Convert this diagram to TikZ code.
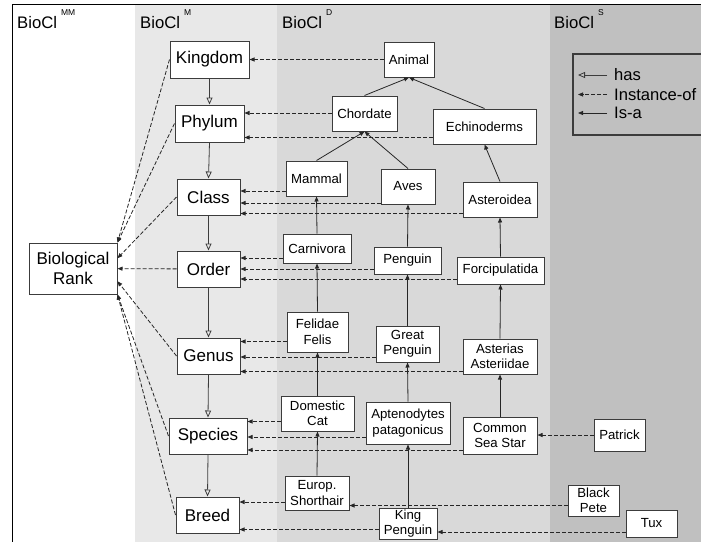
\documentclass[tikz,border=0pt]{standalone}
\usepackage{fontspec}
\setmainfont{Liberation Sans}
\definecolor{bandm}{RGB}{232,232,232}
\definecolor{bandd}{RGB}{217,217,217}
\definecolor{bands}{RGB}{192,192,192}
\definecolor{edgegray}{RGB}{60,60,60}
\usetikzlibrary{arrows.meta, calc}

\tikzset{
  rankbox/.style={draw=edgegray, fill=white, line width=1pt, inner sep=0pt,
                  align=center, font=\fontsize{17}{20}\selectfont},
  taxbox/.style={draw=edgegray, fill=white, line width=1pt, inner sep=0pt,
                 align=center, font=\fontsize{13.2}{15.5}\selectfont},
  sz/.style 2 args={minimum width=#1pt, minimum height=#2pt},
  hasedge/.style={draw=edgegray, line width=0.8pt,
                  -{Triangle[open, length=7pt, width=6pt]}},
  isaedge/.style={draw=black!85, line width=0.8pt,
                  -{Triangle[length=5pt, width=4pt]}},
  instedge/.style={draw=black!85, line width=0.8pt, dash pattern=on 4pt off 2pt,
                   -{Triangle[length=5pt, width=4pt]}},
  levellabel/.style={anchor=base west, inner sep=0pt,
                     font=\fontsize{16.7}{20}\selectfont},
  legendtext/.style={anchor=west, inner sep=0pt,
                     font=\fontsize{16.6}{19}\selectfont}
}
\newcommand{\lvl}[1]{BioCl\hspace{4pt}\raisebox{12.5pt}{\fontsize{8.5}{9}\selectfont #1}}

\begin{document}
\begin{tikzpicture}[x=1pt, y=-1pt]
  \useasboundingbox (0,0) rectangle (701,541);
  \clip (0,0) rectangle (701,541);

  % level bands
  \fill[bandm] (135,4) rectangle (277,560);
  \fill[bandd] (277,4) rectangle (550,560);
  \fill[bands] (550,4) rectangle (720,560);
  \draw[line width=1pt] (12,560) -- (12,4) -- (720,4);

  \node[levellabel] (lblmm) at (17,28) {\lvl{MM}};
  \node[levellabel] (lblm) at (140,28) {\lvl{M}};
  \node[levellabel] (lbld) at (282,28) {\lvl{D}};
  \node[levellabel] (lbls) at (554,28) {\lvl{S}};

  % meta-metamodel and metamodel
  \node[rankbox, sz={88}{51}] (rank) at (73,268.5) {Biological\\Rank};
  \node[rankbox, sz={79}{37}] (kingdom) at (209.5,59.5) {Kingdom};
  \node[rankbox, sz={69}{37}] (phylum) at (209.5,123.5) {Phylum};
  \node[rankbox, sz={63}{36}] (class) at (208.5,197) {Class};
  \node[rankbox, sz={63}{36}] (order) at (208.5,269) {Order};
  \node[rankbox, sz={63}{36}] (genus) at (208.5,356) {Genus};
  \node[rankbox, sz={78}{36}] (species) at (208,436) {Species};
  \node[rankbox, sz={63}{36}] (breed) at (207.5,515) {Breed};

  % domain taxa
  \node[taxbox, sz={50}{35}] (animal) at (409,59.5) {Animal};
  \node[taxbox, sz={65}{35}] (chordate) at (364.5,113.5) {Chordate};
  \node[taxbox, sz={103}{35}] (echino) at (484.5,126.5) {Echinoderms};
  \node[taxbox, sz={61}{35}] (mammal) at (316.5,178.5) {Mammal};
  \node[taxbox, sz={54}{35}] (aves) at (408,186.5) {Aves};
  \node[taxbox, sz={74}{35}] (asteroidea) at (500,199.5) {Asteroidea};
  \node[taxbox, sz={68}{29}] (carnivora) at (317,248.5) {Carnivora};
  \node[taxbox, sz={67}{27}] (penguin) at (407.5,260.5) {Penguin};
  \node[taxbox, sz={87}{27}] (forcip) at (500.5,270.5) {Forcipulatida};
  \node[taxbox, sz={61}{40}] (felidae) at (317.5,332) {Felidae\\Felis};
  \node[taxbox, sz={63}{36}] (greatpeng) at (407.5,344) {Great\\Penguin};
  \node[taxbox, sz={74}{35}] (asterias) at (500,356.5) {Asterias\\Asteriidae};
  \node[taxbox, sz={73}{35}] (domcat) at (317.5,413.5) {Domestic\\Cat};
  \node[taxbox, sz={84}{42}] (apten) at (408,423) {Aptenodytes\\patagonicus};
  \node[taxbox, sz={74}{37}] (seastar) at (500,435.5) {Common\\Sea Star};
  \node[taxbox, sz={64}{34}] (europ) at (317,493) {Europ.\\Shorthair};
  \node[taxbox, sz={58}{31}] (kingpeng) at (408,523.5) {King\\Penguin};

  % individuals
  \node[taxbox, sz={51}{32}] (patrick) at (619.5,435) {Patrick};
  \node[taxbox, sz={51}{31}] (blackpete) at (593.5,500.5) {Black\\Pete};
  \node[taxbox, sz={51}{27}] (tux) at (651.5,523.5) {Tux};

  % has
  \foreach \upper/\lower in {kingdom/phylum, phylum/class, class/order,
                             order/genus, genus/species, species/breed}
    \draw[hasedge] (\upper.south) -- (\lower.north);

  % is-a
  \foreach \child/\parent in {chordate/animal, echino/animal, mammal/chordate,
        aves/chordate, asteroidea/echino, carnivora/mammal, penguin/aves,
        forcip/asteroidea, felidae/carnivora, greatpeng/penguin, asterias/forcip,
        domcat/felidae, apten/greatpeng, seastar/asterias, europ/domcat,
        kingpeng/apten}
    \draw[isaedge] (\child.north) -- (\parent.south);

  % instance-of
  \draw[instedge] (kingdom.west) -- (rank.north east);
  \draw[instedge] (phylum.west) -- (rank.north east);
  \draw[instedge] (class.west) -- (rank.13);
  \draw[instedge] (order) -- (rank);
  \draw[instedge] (genus.west) -- (rank.-16);
  \draw[instedge] (species.west) -- (rank.south east);
  \draw[instedge] (breed.west) -- (rank.south east);
  \draw[instedge] (animal) -- (kingdom);
  \foreach \src/\dst/\yy in {chordate/phylum/113, echino/phylum/137.5,
        mammal/class/191, aves/class/203, asteroidea/class/213.5,
        carnivora/order/258, penguin/order/269, forcip/order/279,
        felidae/genus/341.5, greatpeng/genus/357, asterias/genus/371.5,
        domcat/species/421.5, apten/species/437, seastar/species/450,
        europ/breed/502, kingpeng/breed/529.5, patrick/seastar/435,
        blackpete/europ/505.5, tux/kingpeng/532}
    \draw[instedge] (\src.west |- 0,\yy) -- (\dst.east |- 0,\yy);

  % legend
  \draw[edgegray, line width=1.2pt] (573,54) rectangle (720,135);
  \node[legendtext] (lhas) at (614,75) {has};
  \node[legendtext] (linst) at (614,94.5) {Instance-of};
  \node[legendtext] (lisa) at (614,113) {Is-a};
  \draw[hasedge] ([xshift=-7pt]lhas.west) -- ++(-29,0);
  \draw[instedge] ([xshift=-7pt]linst.west) -- ++(-29,0);
  \draw[isaedge] ([xshift=-7pt]lisa.west) -- ++(-29,0);
\end{tikzpicture}
\end{document}
